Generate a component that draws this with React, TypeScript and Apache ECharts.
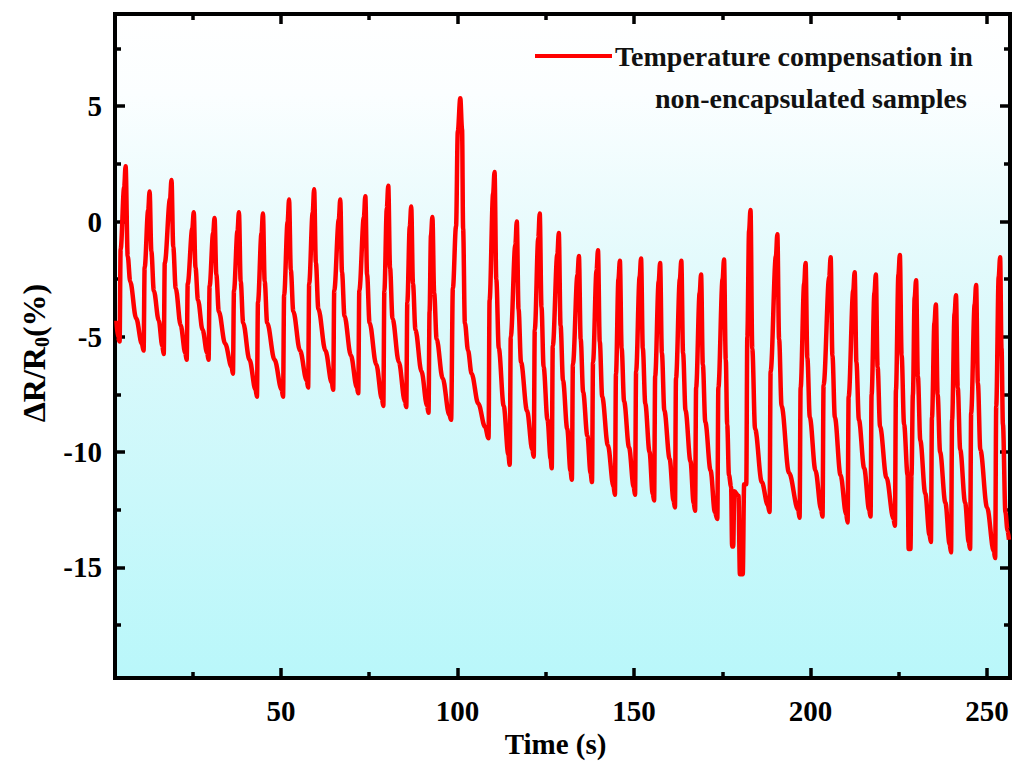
import React, { useEffect, useRef } from "react";
import * as echarts from "echarts";

// Time (s) vs ΔR/R0 (%)
const signal: [number, number][] = [
  [3.4,-4.3],[3.8,-5.0],[4.3,-5.2],[4.6,-1.2],[5.6,1.5],[6.0,2.4],[6.6,-1.5],[7.3,-2.6],[9.0,-4.2],[10.6,-5.3],
  [11.1,-5.6],[11.4,-2.0],[12.4,0.5],[12.8,1.3],[13.3,-1.3],[14.0,-3.0],[15.4,-4.3],[16.4,-5.4],
  [16.8,-5.75],[17.1,-1.8],[18.6,1.0],[19.0,1.8],[19.5,-1.1],[20.2,-2.9],[21.6,-4.5],[22.9,-5.7],
  [23.3,-6.0],[23.6,-2.7],[24.9,-0.3],[25.3,0.4],[25.8,-2.0],[26.5,-3.4],[27.8,-4.7],[29.1,-5.7],
  [29.5,-6.0],[29.8,-2.8],[30.8,-0.5],[31.2,0.15],[31.7,-2.3],[32.4,-3.9],[34.2,-5.3],[36.0,-6.3],
  [36.4,-6.6],[36.7,-3.0],[37.7,-0.4],[38.1,0.4],[38.6,-2.6],[39.3,-4.4],[41.1,-6.0],[42.8,-7.3],
  [43.2,-7.6],[43.5,-3.5],[44.5,-0.5],[44.9,0.35],[45.4,-2.6],[46.1,-4.4],[48.2,-6.0],[50.2,-7.3],
  [50.6,-7.6],[50.9,-3.2],[51.9,0.0],[52.3,0.95],[52.8,-2.1],[53.5,-3.9],[55.4,-5.6],[57.3,-6.9],
  [57.7,-7.2],[58.0,-2.7],[59.0,0.4],[59.4,1.4],[59.9,-1.8],[60.6,-3.8],[62.6,-5.6],[64.4,-7.0],
  [64.8,-7.3],[65.1,-3.0],[66.4,0.1],[66.8,0.95],[67.3,-2.2],[68.0,-4.1],[69.8,-5.8],[71.5,-7.2],
  [71.9,-7.45],[72.2,-3.0],[73.5,0.2],[73.9,1.1],[74.4,-2.3],[75.1,-4.4],[77.0,-6.2],[78.6,-7.7],
  [79.0,-8.0],[79.3,-3.0],[80.0,0.6],[80.4,1.55],[80.9,-2.0],[81.6,-4.2],[83.4,-6.1],[85.1,-7.8],
  [85.5,-8.05],[85.8,-3.5],[86.5,-0.2],[86.9,0.65],[87.4,-2.7],[88.1,-4.7],[89.8,-6.5],[91.4,-8.0],
  [91.8,-8.3],[92.1,-3.9],[92.5,-0.6],[92.9,0.2],[93.4,-3.1],[94.1,-5.1],[95.8,-6.8],[97.7,-8.4],
  [98.2,-8.6],[98.7,-2.9],[99.6,-0.2],[100.1,3.9],[100.8,5.35],[101.3,4.0],[101.6,-0.3],[102.1,-4.4],[103.0,-5.6],[104.0,-6.6],[105.9,-7.9],[107.8,-8.9],
  [108.8,-9.4],[109.1,-3.4],[110.1,1.2],[110.5,2.15],[111.0,-2.5],[111.7,-5.5],[113.1,-8.0],[114.4,-10.1],
  [114.8,-10.55],[115.1,-5.0],[116.4,-1.0],[116.8,0.0],[117.3,-3.8],[118.0,-6.1],[119.7,-8.2],[121.2,-9.9],
  [121.6,-10.2],[121.9,-4.7],[122.9,-0.7],[123.3,0.35],[123.8,-3.7],[124.4,-6.3],[125.5,-8.6],[126.4,-10.3],
  [126.7,-10.7],[127.0,-5.4],[128.3,-1.4],[128.7,-0.5],[129.2,-4.5],[129.9,-6.9],[131.1,-9.0],[132.0,-10.8],
  [132.4,-11.2],[132.7,-6.2],[134.0,-2.3],[134.4,-1.5],[134.9,-5.1],[135.6,-7.4],[136.8,-9.3],[137.7,-10.9],
  [138.1,-11.3],[138.4,-6.1],[139.4,-2.1],[139.8,-1.25],[140.3,-5.2],[141.0,-7.6],[142.6,-9.7],[144.2,-11.5],
  [144.6,-11.85],[144.9,-6.6],[145.6,-2.5],[146.0,-1.7],[146.5,-5.5],[147.2,-7.8],[148.6,-9.8],[149.9,-11.5],
  [150.3,-11.85],[150.6,-6.5],[151.6,-2.4],[152.0,-1.6],[152.5,-5.5],[153.2,-7.9],[154.4,-10.0],[155.3,-11.8],
  [155.7,-12.1],[156.0,-6.7],[157.0,-2.6],[157.4,-1.8],[157.9,-5.7],[158.6,-8.2],[160.1,-10.3],[161.2,-12.1],
  [161.6,-12.4],[161.9,-6.8],[163.0,-2.5],[163.4,-1.7],[163.9,-5.7],[164.6,-8.2],[166.0,-10.4],[166.9,-12.2],
  [167.3,-12.55],[167.6,-7.2],[168.6,-3.1],[169.0,-2.3],[169.5,-6.2],[170.2,-8.7],[171.7,-10.8],[172.9,-12.6],
  [173.6,-12.9],[173.9,-7.2],[175.1,-2.5],[175.5,-1.65],[176.0,-6.0],[176.4,-8.8],[176.9,-11.0],[177.5,-11.5],[177.8,-14.1],[178.1,-14.1],[178.4,-11.7],[179.6,-11.9],[180.0,-15.3],[180.8,-15.3],[181.2,-11.4],[181.8,-11.4],[182.1,-5.0],[182.6,-0.4],
  [183.0,0.5],[183.5,-5.5],[184.3,-9.0],[186.2,-11.3],[187.9,-12.3],
  [188.4,-12.6],[188.7,-6.5],[190.2,-1.5],[190.6,-0.55],[191.1,-5.1],[191.8,-8.0],[193.9,-10.9],[196.5,-12.5],
  [196.9,-12.85],[197.2,-7.2],[198.2,-2.7],[198.6,-1.8],[199.1,-5.9],[199.8,-8.5],[201.4,-10.8],[203.0,-12.5],
  [203.4,-12.8],[203.7,-7.1],[205.3,-2.4],[205.7,-1.55],[206.2,-5.8],[206.9,-8.5],[208.5,-11.0],[210.1,-12.7],
  [210.5,-13.05],[210.8,-7.6],[212.1,-3.0],[212.5,-2.2],[213.0,-6.1],[213.7,-8.6],[215.2,-10.7],[216.6,-12.5],
  [217.0,-12.8],[217.3,-7.5],[218.1,-3.1],[218.5,-2.3],[219.0,-6.3],[219.7,-8.9],[221.5,-11.1],[223.5,-12.9],
  [223.9,-13.2],[224.2,-7.3],[224.9,-2.3],[225.3,-1.45],[225.8,-5.8],[226.5,-8.8],[227.5,-11.0],[227.8,-14.2],[228.3,-14.2],[228.6,-11.0],[229.0,-7.5],[229.5,-3.3],
  [229.9,-2.55],[230.4,-6.7],[231.1,-9.5],[232.5,-11.8],[233.7,-13.6],
  [234.1,-13.9],[234.4,-8.5],[235.1,-4.4],[235.5,-3.6],[236.0,-7.5],[236.7,-10.0],[238.2,-12.2],[239.4,-14.0],
  [239.8,-14.35],[240.1,-8.6],[240.8,-4.0],[241.2,-3.2],[241.7,-7.2],[242.4,-9.9],[243.8,-12.2],[244.8,-13.9],
  [245.2,-14.2],[245.5,-8.3],[246.5,-3.6],[246.9,-2.75],[247.4,-7.0],[248.1,-9.9],[250.0,-12.4],[251.9,-14.3],
  [252.3,-14.6],[252.6,-8.0],[253.3,-2.4],[253.7,-1.55],[254.1,-5.5],[254.5,-8.8],[255.2,-12.6],[255.8,-13.4],[256.2,-13.8],
];

const xMajorTicks = [50, 100, 150, 200, 250];
const xMinorTicks = [25, 75, 125, 175, 225];
const yMajorTicks = [-15, -10, -5, 0, 5];
const yMinorTicks = [-17.5, -12.5, -7.5, -2.5, 2.5, 7.5];

const seriesName = "Temperature compensation in non-encapsulated samples";
const legendLine1 = "Temperature compensation in";
const legendLine2 = "non-encapsulated samples";

const X_MIN = 3;
const X_MAX = 256.5;
const Y_MIN = -19.8;
const Y_MAX = 9.0;

const FONT = "'Liberation Serif', 'Times New Roman', serif";

export default function App() {
  const ref = useRef<HTMLDivElement>(null);

  useEffect(() => {
    if (!ref.current) return;
    const chart = echarts.init(ref.current, undefined, { renderer: "svg" });

    const axisLine = { onZero: false, lineStyle: { color: "#000", width: 4, cap: "square" } };
    const majorTick = (vals: number[]) => ({
      inside: true, length: 10, customValues: vals,
      lineStyle: { color: "#000", width: 3.5 },
    });
    const minorTick = (vals: number[]) => ({
      inside: true, length: 6, customValues: vals,
      lineStyle: { color: "#000", width: 3.5 },
    });
    const labelStyle = {
      fontFamily: FONT, fontWeight: "bold", fontSize: 29, color: "#000",
    };

    const xBase = { type: "value", min: X_MIN, max: X_MAX, splitLine: { show: false } };
    const yBase = { type: "value", min: Y_MIN, max: Y_MAX, splitLine: { show: false } };

    chart.setOption({
      animation: false,
      backgroundColor: "#ffffff",
      grid: {
        left: 115, top: 14, width: 895, height: 664,
        show: true, borderWidth: 0,
        backgroundColor: new echarts.graphic.LinearGradient(0, 0, 0, 1, [
          { offset: 0, color: "#ffffff" },
          { offset: 0.12, color: "#fbfeff" },
          { offset: 0.45, color: "#dcf9fb" },
          { offset: 1, color: "#b9f7fa" },
        ]),
      },
      xAxis: [
        {
          ...xBase, position: "bottom",
          axisLine, axisTick: majorTick(xMajorTicks),
          axisLabel: { ...labelStyle, customValues: xMajorTicks, margin: 18 },
          name: "Time (s)", nameLocation: "middle", nameGap: 50,
          nameTextStyle: { fontFamily: FONT, fontWeight: "bold", fontSize: 29, color: "#000", padding: [0, 14, 0, 0] },
        },
        { ...xBase, position: "bottom", axisLine: { show: false, onZero: false }, axisTick: minorTick(xMinorTicks), axisLabel: { show: false } },
        { ...xBase, position: "top", axisLine, axisTick: majorTick(xMajorTicks), axisLabel: { show: false } },
        { ...xBase, position: "top", axisLine: { show: false, onZero: false }, axisTick: minorTick(xMinorTicks), axisLabel: { show: false } },
      ],
      yAxis: [
        {
          ...yBase, position: "left",
          axisLine, axisTick: majorTick(yMajorTicks),
          axisLabel: { ...labelStyle, customValues: yMajorTicks, margin: 13 },
          name: "{a|ΔR/R}{s|0}{a|(%)}", nameLocation: "middle", nameGap: 62, nameRotate: 90,
          nameTextStyle: {
            padding: [0, 14, 0, 0],
            rich: {
              a: { fontFamily: FONT, fontWeight: "bold", fontSize: 32, color: "#000" },
              s: { fontFamily: FONT, fontWeight: "bold", fontSize: 20, color: "#000", verticalAlign: "bottom", padding: [16, 0, 0, 0] },
            },
          },
        },
        { ...yBase, position: "left", axisLine: { show: false, onZero: false }, axisTick: minorTick(yMinorTicks), axisLabel: { show: false } },
        { ...yBase, position: "right", axisLine, axisTick: majorTick(yMajorTicks), axisLabel: { show: false } },
        { ...yBase, position: "right", axisLine: { show: false, onZero: false }, axisTick: minorTick(yMinorTicks), axisLabel: { show: false } },
      ],
      series: [
        {
          name: seriesName,
          type: "line",
          xAxisIndex: 0,
          yAxisIndex: 0,
          data: signal,
          showSymbol: false,
          symbol: "none",
          smooth: 0.35,
          smoothMonotone: "x",
          lineStyle: { color: "#ff0000", width: 4.5, join: "miter" },
          z: 3,
        },
      ],
      graphic: [
        {
          type: "line", z: 10,
          shape: { x1: 535, y1: 56, x2: 612, y2: 56 },
          style: { stroke: "#ff0000", lineWidth: 4 },
        },
        {
          type: "text", z: 10, x: 615, y: 56,
          style: {
            text: legendLine1, fill: "#111", font: `bold 28px ${FONT}`,
            textVerticalAlign: "middle", verticalAlign: "middle",
          },
        },
        {
          type: "text", z: 10, x: 655, y: 98,
          style: {
            text: legendLine2, fill: "#111", font: `bold 28px ${FONT}`,
            textVerticalAlign: "middle", verticalAlign: "middle",
          },
        },
      ],
    });

    return () => chart.dispose();
  }, []);

  return (
    <div
      ref={ref}
      style={{ position: "fixed", left: 0, top: 0, width: 1018, height: 766, background: "#fff" }}
    />
  );
}
